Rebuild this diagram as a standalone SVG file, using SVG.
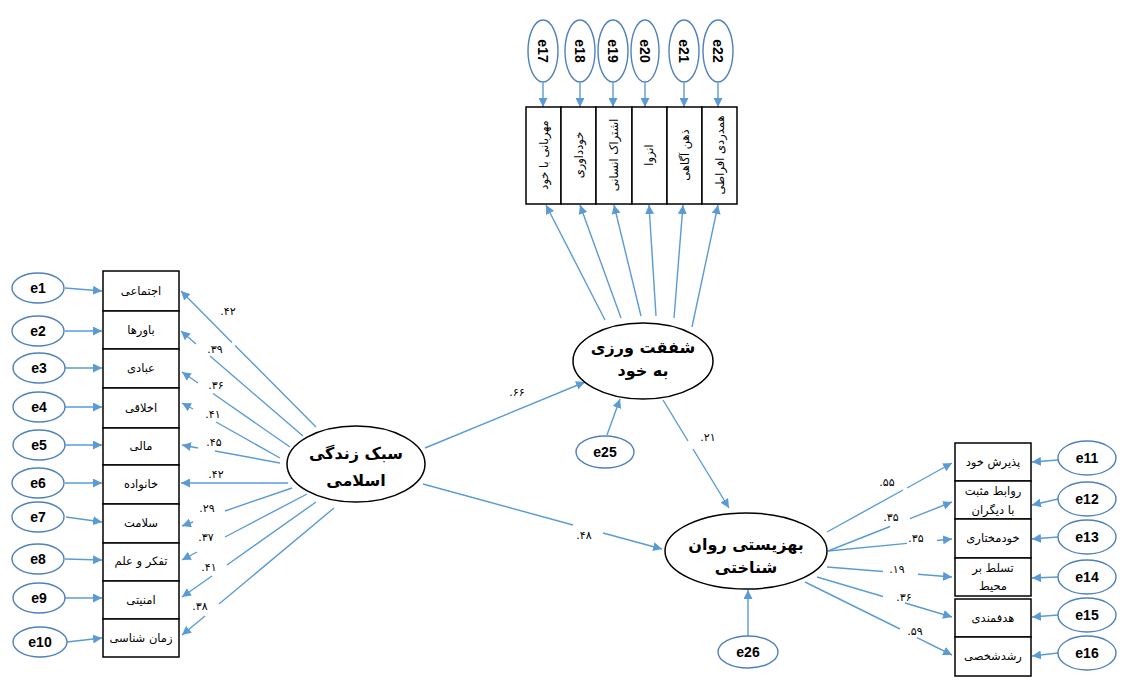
<svg xmlns="http://www.w3.org/2000/svg" width="1123" height="687" viewBox="0 0 1123 687">
<defs>
<marker id="ah" viewBox="0 0 10 10" refX="10" refY="5" markerWidth="9" markerHeight="9" markerUnits="userSpaceOnUse" orient="auto"><path d="M0,0 L10,5 L0,10 z" fill="#5B9BD5"/></marker>
</defs>
<style>
.c{fill:none;stroke:#5B9BD5;stroke-width:1.4;marker-end:url(#ah)}
.e{fill:#fff;stroke:#4F81BD;stroke-width:1.4}
.lat{fill:#fff;stroke:#000;stroke-width:1.5}
.box{fill:#fff;stroke:#000;stroke-width:1.5}
.et{font-family:"Liberation Sans",Arial,sans-serif;font-weight:bold;font-size:14px;fill:#000;text-anchor:middle;dominant-baseline:central}
.bt{font-family:"DejaVu Sans","Noto Sans",sans-serif;font-size:11.5px;fill:#000;text-anchor:middle;dominant-baseline:central}
.lt{font-family:"DejaVu Sans","Noto Sans",sans-serif;font-weight:bold;font-size:16px;fill:#000;text-anchor:middle}
.n{font-family:"DejaVu Sans","Noto Sans",sans-serif;font-size:11px;fill:#000;text-anchor:middle;dominant-baseline:central}
</style>
<rect width="1123" height="687" fill="#fff"/>

<g id="connectors">
<path class="c" d="M65,288 L102,291"/>
<path class="c" d="M65,331 L102,331"/>
<path class="c" d="M65,368 L102,368"/>
<path class="c" d="M65,407 L102,407"/>
<path class="c" d="M65,445 L102,445"/>
<path class="c" d="M65,483 L102,483"/>
<path class="c" d="M66,517 L102,522"/>
<path class="c" d="M65,559 L102,560"/>
<path class="c" d="M65,598 L102,598"/>
<path class="c" d="M67,642 L102,638"/>
<path class="c" d="M1058,460 L1032,462"/>
<path class="c" d="M1058,499 L1032,505"/>
<path class="c" d="M1058,537 L1032,539"/>
<path class="c" d="M1058,577 L1032,578"/>
<path class="c" d="M1058,615 L1032,617"/>
<path class="c" d="M1058,653 L1032,656"/>
<path class="c" d="M543,83 L543,107"/>
<path class="c" d="M580,83 L580,107"/>
<path class="c" d="M613,83 L613,107"/>
<path class="c" d="M645,83 L645,107"/>
<path class="c" d="M684,83 L684,107"/>
<path class="c" d="M718,83 L718,107"/>
<path class="c" d="M316,427 L235,345.4 M232,342.4 L181,291"/>
<path class="c" d="M303,436 L210,356 M196,344 L181,331"/>
<path class="c" d="M290,447 L213,393.5 M198,383 L182,372"/>
<path class="c" d="M280,458 L216,422 M193,409 L182,403"/>
<path class="c" d="M280,463 L215,451 M198,448 L182,445"/>
<path class="c" d="M288,483 L181,483"/>
<path class="c" d="M292,488 L225,511 M193,522 L182,526"/>
<path class="c" d="M307,494 L225,537 M197,552 L182,560"/>
<path class="c" d="M316,502 L227,565 M212,576 L182,597"/>
<path class="c" d="M334,508 L219,604 M205,616 L182,635"/>
<path class="c" d="M605,320 L546,205"/>
<path class="c" d="M621,318 L580,205"/>
<path class="c" d="M641,316 L614,205"/>
<path class="c" d="M656,316 L649,205"/>
<path class="c" d="M674,318 L683,205"/>
<path class="c" d="M692,327 L718,205"/>
<path class="c" d="M425,448 L585,382"/>
<path class="c" d="M423,484 L573,525 M603,533 L662,549"/>
<path class="c" d="M663,400 L688,441 M693,449 L729,508"/>
<path class="c" d="M607,435 L620,399"/>
<path class="c" d="M748,636 L748,590"/>
<path class="c" d="M827,532 L903,490 M907,488 L952,463"/>
<path class="c" d="M828,551 L890,526.5 M910,518.6 L952,502"/>
<path class="c" d="M828,551 L907,543.4 M937,540.5 L952,539"/>
<path class="c" d="M827,567 L883,571.5 M918,574.3 L952,577"/>
<path class="c" d="M817,577 L883,596.5 M905,603 L952,617"/>
<path class="c" d="M805,582 L900,629 M917,637.6 L952,655"/>
</g>

<g id="coefficients">
<text class="n" x="228" y="311">.۴۲</text>
<text class="n" x="215" y="349">.۳۹</text>
<text class="n" x="216" y="385">.۳۶</text>
<text class="n" x="213" y="414">.۴۱</text>
<text class="n" x="214" y="442">.۴۵</text>
<text class="n" x="216" y="474">.۴۲</text>
<text class="n" x="207" y="508">.۲۹</text>
<text class="n" x="206" y="537">.۳۷</text>
<text class="n" x="209" y="567">.۴۱</text>
<text class="n" x="200" y="606">.۳۸</text>
<text class="n" x="517" y="392">.۶۶</text>
<text class="n" x="584" y="535">.۴۸</text>
<text class="n" x="708" y="437">.۲۱</text>
<text class="n" x="887" y="482">.۵۵</text>
<text class="n" x="891" y="517">.۳۵</text>
<text class="n" x="916" y="538">.۳۵</text>
<text class="n" x="897" y="569">.۱۹</text>
<text class="n" x="904" y="597">.۳۶</text>
<text class="n" x="915" y="631">.۵۹</text>
</g>

<g id="e1"><ellipse class="e" cx="38" cy="288" rx="26" ry="15"/><text class="et" x="38" y="288">e1</text></g>
<g id="e2"><ellipse class="e" cx="38" cy="331" rx="26" ry="15"/><text class="et" x="38" y="331">e2</text></g>
<g id="e3"><ellipse class="e" cx="39" cy="368" rx="26" ry="15"/><text class="et" x="39" y="368">e3</text></g>
<g id="e4"><ellipse class="e" cx="39" cy="407" rx="26" ry="15"/><text class="et" x="39" y="407">e4</text></g>
<g id="e5"><ellipse class="e" cx="39" cy="445" rx="26" ry="15"/><text class="et" x="39" y="445">e5</text></g>
<g id="e6"><ellipse class="e" cx="38" cy="483" rx="26" ry="15"/><text class="et" x="38" y="483">e6</text></g>
<g id="e7"><ellipse class="e" cx="38" cy="517" rx="26" ry="15"/><text class="et" x="38" y="517">e7</text></g>
<g id="e8"><ellipse class="e" cx="38" cy="559" rx="26" ry="15"/><text class="et" x="38" y="559">e8</text></g>
<g id="e9"><ellipse class="e" cx="39" cy="598" rx="26" ry="15"/><text class="et" x="39" y="598">e9</text></g>
<g id="e10"><ellipse class="e" cx="40" cy="642" rx="27" ry="15"/><text class="et" x="40" y="642">e10</text></g>

<g id="e11"><ellipse class="e" cx="1087" cy="458" rx="29" ry="17"/><text class="et" x="1087" y="458">e11</text></g>
<g id="e12"><ellipse class="e" cx="1087" cy="499" rx="29" ry="17"/><text class="et" x="1087" y="499">e12</text></g>
<g id="e13"><ellipse class="e" cx="1087" cy="537" rx="29" ry="17"/><text class="et" x="1087" y="537">e13</text></g>
<g id="e14"><ellipse class="e" cx="1087" cy="577" rx="29" ry="17"/><text class="et" x="1087" y="577">e14</text></g>
<g id="e15"><ellipse class="e" cx="1087" cy="615" rx="29" ry="17"/><text class="et" x="1087" y="615">e15</text></g>
<g id="e16"><ellipse class="e" cx="1087" cy="653" rx="29" ry="17"/><text class="et" x="1087" y="653">e16</text></g>

<g id="e17"><ellipse class="e" cx="543" cy="51" rx="15" ry="31"/><text class="et" transform="translate(543,51) rotate(90)">e17</text></g>
<g id="e18"><ellipse class="e" cx="580" cy="51" rx="15" ry="31"/><text class="et" transform="translate(580,51) rotate(90)">e18</text></g>
<g id="e19"><ellipse class="e" cx="613" cy="51" rx="15" ry="31"/><text class="et" transform="translate(613,51) rotate(90)">e19</text></g>
<g id="e20"><ellipse class="e" cx="645" cy="51" rx="14" ry="31"/><text class="et" transform="translate(645,51) rotate(90)">e20</text></g>
<g id="e21"><ellipse class="e" cx="684" cy="51" rx="15" ry="31"/><text class="et" transform="translate(684,51) rotate(90)">e21</text></g>
<g id="e22"><ellipse class="e" cx="718" cy="51" rx="15" ry="31"/><text class="et" transform="translate(718,51) rotate(90)">e22</text></g>

<g id="e25"><ellipse class="e" cx="605" cy="452" rx="29" ry="16"/><text class="et" x="605" y="452">e25</text></g>
<g id="e26"><ellipse class="e" cx="748" cy="652" rx="30" ry="16"/><text class="et" x="748" y="652">e26</text></g>

<g id="b1"><rect class="box" x="103" y="271" width="76" height="40"/><text class="bt" x="141" y="291">اجتماعی</text></g>
<g id="b2"><rect class="box" x="103" y="311" width="76" height="38"/><text class="bt" x="141" y="330">باورها</text></g>
<g id="b3"><rect class="box" x="103" y="349" width="76" height="39"/><text class="bt" x="141" y="368">عبادی</text></g>
<g id="b4"><rect class="box" x="103" y="388" width="76" height="40"/><text class="bt" x="141" y="408">اخلاقی</text></g>
<g id="b5"><rect class="box" x="103" y="428" width="76" height="37"/><text class="bt" x="141" y="446">مالی</text></g>
<g id="b6"><rect class="box" x="103" y="465" width="76" height="39"/><text class="bt" x="141" y="484">خانواده</text></g>
<g id="b7"><rect class="box" x="103" y="504" width="76" height="39"/><text class="bt" x="141" y="523">سلامت</text></g>
<g id="b8"><rect class="box" x="103" y="543" width="76" height="38"/><text class="bt" x="141" y="561">تفکر و علم</text></g>
<g id="b9"><rect class="box" x="103" y="581" width="76" height="38"/><text class="bt" x="141" y="600">امنیتی</text></g>
<g id="b10"><rect class="box" x="103" y="619" width="76" height="38"/><text class="bt" x="141" y="638">زمان شناسی</text></g>

<g id="t1"><rect class="box" x="526" y="107" width="35" height="97"/><text class="bt" transform="translate(544,155) rotate(-90)">مهربانی با خود</text></g>
<g id="t2"><rect class="box" x="561" y="107" width="35" height="97"/><text class="bt" transform="translate(579,155) rotate(-90)">خودداوری</text></g>
<g id="t3"><rect class="box" x="596" y="107" width="36" height="97"/><text class="bt" transform="translate(614,155) rotate(-90)">اشتراک انسانی</text></g>
<g id="t4"><rect class="box" x="632" y="107" width="35" height="97"/><text class="bt" transform="translate(649,155) rotate(-90)">انزوا</text></g>
<g id="t5"><rect class="box" x="667" y="107" width="35" height="97"/><text class="bt" transform="translate(685,155) rotate(-90)">ذهن آگاهی</text></g>
<g id="t6"><rect class="box" x="702" y="107" width="35" height="97"/><text class="bt" transform="translate(720,155) rotate(-90)">همدردی افراطی</text></g>

<g id="r1"><rect class="box" x="955" y="443" width="76" height="38"/><text class="bt" x="993" y="462">پذیرش خود</text></g>
<g id="r2"><rect class="box" x="955" y="481" width="76" height="38"/><text class="bt" x="993" y="491">روابط مثبت</text><text class="bt" x="993" y="510">با دیگران</text></g>
<g id="r3"><rect class="box" x="955" y="519" width="76" height="39"/><text class="bt" x="993" y="538">خودمختاری</text></g>
<g id="r4"><rect class="box" x="955" y="558" width="76" height="38"/><text class="bt" x="993" y="568">تسلط بر</text><text class="bt" x="993" y="586">محیط</text></g>
<g id="r5"><rect class="box" x="955" y="599" width="76" height="38"/><text class="bt" x="993" y="618">هدفمندی</text></g>
<g id="r6"><rect class="box" x="955" y="637" width="76" height="39"/><text class="bt" x="993" y="656">رشدشخصی</text></g>

<g id="islamic_lifestyle"><ellipse class="lat" cx="356" cy="464" rx="69" ry="38"/><text class="lt" x="356" y="459">سبک زندگی</text><text class="lt" x="356" y="486">اسلامی</text></g>
<g id="self_compassion"><ellipse class="lat" cx="643" cy="361" rx="70" ry="38"/><text class="lt" x="643" y="353">شفقت ورزی</text><text class="lt" x="643" y="376">به خود</text></g>
<g id="wellbeing"><ellipse class="lat" cx="746" cy="551" rx="81" ry="38"/><text class="lt" x="746" y="550">بهزیستی روان</text><text class="lt" x="746" y="573">شناختی</text></g>
</svg>
